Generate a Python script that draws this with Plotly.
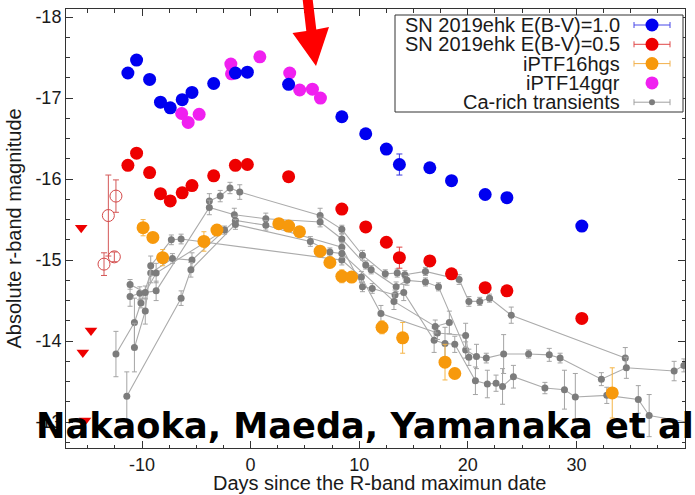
import plotly.graph_objects as go

# ---------------- data ----------------
# SN 2019ehk, E(B-V)=1.0 (blue) and 0.5 (red)
ehk_days = [-11.3, -10.5, -9.3, -8.3, -7.4, -6.3, -5.4, -3.4, -1.4, -0.3, 3.5, 8.4,
            10.6, 12.5, 13.7, 16.5, 18.5, 21.6, 23.6, 30.5]
ehk10_mag = [-17.31, -17.47, -17.23, -16.95, -16.88, -16.98, -17.07, -17.18, -17.31, -17.32,
             -17.17, -16.77, -16.56, -16.37, -16.18, -16.14, -15.98, -15.81, -15.77, -15.42]
ehk05_mag = [-16.17, -16.32, -16.08, -15.82, -15.73, -15.83, -15.92, -16.04, -16.17, -16.18,
             -16.03, -15.63, -15.41, -15.22, -15.03, -14.99, -14.83, -14.66, -14.62, -14.28]
ehk_err = [0.03, 0.03, 0.03, 0.03, 0.03, 0.03, 0.03, 0.03, 0.03, 0.03,
           0.03, 0.03, 0.03, 0.03, 0.13, 0.03, 0.03, 0.03, 0.03, 0.03]

# early SN 2019ehk (open circles) and upper limits (triangles)
early_days = [-13.1, -12.4, -13.5, -12.55]
early_mag = [-15.55, -15.79, -14.95, -15.04]
early_err = [0.5, 0.2, 0.14, 0.06]
lim_days = [-15.6, -14.7, -15.45, -15.25]
lim_mag = [-15.40, -14.13, -13.86, -13.02]

# iPTF16hgs
hgs_days = [-9.9, -9.0, -8.1, -4.3, -3.1, 2.6, 3.5, 4.5, 6.4, 7.3, 8.4, 9.3, 12.1, 14.0, 17.9, 18.8, 33.3]
hgs_mag = [-15.40, -15.28, -15.03, -15.23, -15.37, -15.45, -15.42, -15.35, -15.11, -14.97,
           -14.80, -14.79, -14.17, -14.04, -13.74, -13.60, -13.36]
hgs_err = [0.10, 0.06, 0.10, 0.12, 0.06, 0.05, 0.05, 0.05, 0.05, 0.05,
           0.08, 0.05, 0.08, 0.19, 0.22, 0.06, 0.31]

# iPTF14gqr
gqr_days = [-6.35, -5.75, -4.74, -1.82, -1.76, 0.85, 3.6, 4.52, 5.69, 6.43]
gqr_mag = [-16.81, -16.70, -16.80, -17.42, -17.30, -17.51, -17.31, -17.10, -17.11, -17.00]

# Ca-rich transients (several light curves)
ca1_days = [-3.8, -2.8, -1.9, -1.0, 6.4, 8.4, 10.3, 12.4, 13.5, 14.2, 16.1, 19.2, 20.1, 21.1, 22.0, 24.0, 34.5]
ca1_mag = [-15.73, -15.79, -15.89, -15.84, -15.55, -15.38, -15.06, -14.83, -14.84, -14.82,
           -14.86, -14.76, -14.49, -14.49, -14.53, -14.32, -13.79]
ca1_err = [0.09, 0.07, 0.07, 0.09, 0.09, 0.05, 0.06, 0.05, 0.05, 0.05,
           0.05, 0.06, 0.06, 0.05, 0.05, 0.10, 0.13]

ca2_days = [-11.1, -10.2, -8.7, -3.8, -1.5, 1.4, 6.4, 8.4, 10.6, 11.1, 13.4, 14.4, 16.1, 17.3,
            19.8, 20.8, 21.7, 23.3, 25.6, 27.5, 28.5, 32.3, 34.6, 39.0, 39.9, 40.6]
ca2_mag = [-14.55, -14.59, -14.62, -15.65, -15.56, -15.51, -15.47, -15.26, -14.94, -14.88,
           -14.67, -14.75, -14.73, -14.67, -13.89, -13.81, -13.79, -13.84, -13.84, -13.83,
           -13.79, -13.53, -13.67, -13.63, -13.70, -13.57]
ca2_err = [0.12, 0.08, 0.12, 0.09, 0.08, 0.07, 0.06, 0.06, 0.05, 0.05,
           0.06, 0.06, 0.05, 0.05, 0.10, 0.15, 0.06, 0.24, 0.05, 0.08,
           0.06, 0.08, 0.13, 0.12, 0.08, 0.10]

ca3_days = [-12.4, -10.7, -10.1, -9.2, -7.2, -5.4, -1.4, 1.4, 8.4, 10.3, 11.2, 13.3, 14.1, 16.9,
            17.9, 18.8, 20.7, 21.8, 22.6, 23.2, 24.2, 27.1, 28.9, 29.9, 32.8, 35.7, 36.7, 41.0]
ca3_mag = [-13.84, -14.23, -14.47, -14.84, -15.02, -15.00, -15.49, -15.43, -15.16, -14.67,
           -14.65, -14.57, -14.60, -14.01, -13.97, -13.96, -13.51, -13.47, -13.48, -13.44,
           -13.56, -13.42, -13.40, -13.31, -13.33, -13.28, -13.08, -12.98]
ca3_err = [0.28, 0.30, 0.06, 0.12, 0.06, 0.09, 0.05, 0.06, 0.06, 0.06,
           0.06, 0.06, 0.10, 0.15, 0.20, 0.10, 0.17, 0.17, 0.10, 0.22,
           0.14, 0.07, 0.24, 0.29, 0.10, 0.17, 0.26, 0.20]

ca4_days = [-10.7, -9.7, -9.2, -7.3, -6.4, 8.4, 10.2, 12.0, 17.2, 19.8, 20.1]
ca4_mag = [-13.92, -14.37, -14.93, -15.25, -15.26, -15.00, -14.79, -14.34, -14.10, -14.07, -13.80]
ca4_err = [0.30, 0.16, 0.12, 0.06, 0.06, 0.06, 0.07, 0.10, 0.08, 0.15, 0.10]

ca5_days = [-11.4, -6.4, -5.5, -1.4, 5.5, 7.3, 8.4, 13.2, 17.0, 18.3]
ca5_mag = [-13.32, -14.53, -14.88, -15.44, -15.23, -15.10, -15.08, -14.49, -14.18, -14.23]
ca5_err = [0.30, 0.09, 0.09, 0.06, 0.06, 0.05, 0.05, 0.10, 0.08, 0.14]

ca6_days = [-11.1, -9.7, -8.7, -2.4]
ca6_mag = [-14.70, -14.60, -14.84, -15.37]
ca6_err = [0.06, 0.08, 0.12, 0.05]

x_ticks = [-10, 0, 10, 20, 30, 40]
x_tick_text = ["-10", "0", "10", "20", "30", "40"]
y_ticks = [-18, -17, -16, -15, -14, -13]
y_tick_text = ["-18", "-17", "-16", "-15", "-14", "-13"]

legend_labels = ["SN 2019ehk E(B-V)=1.0", "SN 2019ehk E(B-V)=0.5", "iPTF16hgs",
                 "iPTF14gqr", "Ca-rich transients"]

# ---------------- styles ----------------
BLUE = "#0000f0"
RED = "#ee0000"
ORANGE = "#f7990c"
MAGENTA = "#f020f0"
GRAY = "#7c7c7c"
FONT = "Liberation Sans"
TXT = "#1a1a1a"

W, H = 695, 495
L, R, T, B = 66, 10, 9, 47
PW, PH = W - L - R, H - T - B


def px(xp, yp):
    return (xp - L) / PW, (H - B - yp) / PH


fig = go.Figure()

ca_sets = [(ca1_days, ca1_mag, ca1_err), (ca2_days, ca2_mag, ca2_err),
           (ca3_days, ca3_mag, ca3_err), (ca4_days, ca4_mag, ca4_err),
           (ca5_days, ca5_mag, ca5_err), (ca6_days, ca6_mag, ca6_err)]
for d, m, e in ca_sets:
    fig.add_trace(go.Scatter(
        x=d, y=m, mode="lines+markers",
        line=dict(color="#ababab", width=1.1),
        marker=dict(color=GRAY, size=7),
        error_y=dict(type="data", array=e, color="#a4a4a4", thickness=1, width=2.5),
        showlegend=False))

fig.add_trace(go.Scatter(
    x=hgs_days, y=hgs_mag, mode="markers",
    marker=dict(color=ORANGE, size=13),
    error_y=dict(type="data", array=hgs_err, color="#f5b547", thickness=1, width=2.5),
    showlegend=False))

fig.add_trace(go.Scatter(
    x=early_days, y=early_mag, mode="markers",
    marker=dict(symbol="circle-open", color="#d44848", size=12, line=dict(width=1)),
    error_y=dict(type="data", array=early_err, color="#d45858", thickness=1, width=3),
    showlegend=False))

fig.add_trace(go.Scatter(
    x=lim_days, y=lim_mag, mode="markers",
    marker=dict(symbol="triangle-down", color=RED, size=11),
    showlegend=False))

fig.add_trace(go.Scatter(
    x=ehk_days, y=ehk05_mag, mode="markers",
    marker=dict(color=RED, size=13),
    error_y=dict(type="data", array=ehk_err, color="#e04040", thickness=1, width=3),
    showlegend=False))

fig.add_trace(go.Scatter(
    x=gqr_days, y=gqr_mag, mode="markers",
    marker=dict(color=MAGENTA, size=13),
    showlegend=False))

fig.add_trace(go.Scatter(
    x=ehk_days, y=ehk10_mag, mode="markers",
    marker=dict(color=BLUE, size=13),
    error_y=dict(type="data", array=ehk_err, color="#3a3ae0", thickness=1, width=3),
    showlegend=False))

# ---------------- manual legend (symbols on the right, like the original) ----------------
shapes = []
annotations = []
x0, y0 = px(395, 15)
x1, y1 = px(683, 112)
shapes.append(dict(type="rect", xref="paper", yref="paper", x0=x0, y0=y1, x1=x1, y1=y0,
                   line=dict(color="#333", width=1), fillcolor="white", layer="above"))
row_y = [25, 44.3, 63.6, 82.9, 102.2]
leg_colors = [BLUE, RED, ORANGE, MAGENTA, GRAY]
line_cols = ["#4848e8", "#e04848", "#f2b04a", None, "#a0a0a0"]
sizes = [13, 13, 13, 13, 6]
for lab, ry, col, lc, sz in zip(legend_labels, row_y, leg_colors, line_cols, sizes):
    tx, ty = px(621, ry)
    annotations.append(dict(xref="paper", yref="paper", x=tx, y=ty, xanchor="right",
                            yanchor="middle", text=lab, showarrow=False, borderpad=0,
                            font=dict(family=FONT, size=20, color=TXT)))
    cx, cy = px(652, ry)
    if lc:
        a, _ = px(634, ry)
        b, _ = px(670, ry)
        _, cu = px(0, ry - 3)
        _, cd = px(0, ry + 3)
        shapes.append(dict(type="line", xref="paper", yref="paper", x0=a, x1=b, y0=cy, y1=cy,
                           line=dict(color=lc, width=1), layer="above"))
        for e in (a, b):
            shapes.append(dict(type="line", xref="paper", yref="paper", x0=e, x1=e, y0=cd, y1=cu,
                               line=dict(color=lc, width=1), layer="above"))
    r = sz / 2
    shapes.append(dict(type="circle", xref="paper", yref="paper", xsizemode="pixel",
                       ysizemode="pixel", xanchor=cx, yanchor=cy, x0=-r, x1=r, y0=-r, y1=r,
                       fillcolor=col, line=dict(width=0), layer="above"))

# ---------------- red arrow ----------------
arrow_px = [(302, -6), (306.3, 31), (292.5, 33), (316, 66), (329, 27), (316.3, 29.5), (312, -6)]
pts = [px(a, b) for a, b in arrow_px]
path = "M " + " L ".join(f"{a:.5f},{b:.5f}" for a, b in pts) + " Z"
shapes.append(dict(type="path", xref="paper", yref="paper", path=path,
                   fillcolor="#ff0000", line=dict(width=0), layer="above"))

# ---------------- axis titles ----------------
ax_, ay_ = px(380, 483)
annotations.append(dict(xref="paper", yref="paper", x=ax_, y=ay_, xanchor="center",
                        yanchor="middle", text="Days since the R-band maximun date",
                        showarrow=False, borderpad=0, font=dict(family=FONT, size=20, color=TXT)))
bx_, by_ = px(13, 228.5)
annotations.append(dict(xref="paper", yref="paper", x=bx_, y=by_, xanchor="center",
                        yanchor="middle", text="Absolute r-band magnitude", textangle=-90,
                        showarrow=False, borderpad=0, font=dict(family=FONT, size=20, color=TXT)))

# ---------------- overlay text ----------------
nx, ny = px(35, 425)
annotations.append(dict(xref="paper", yref="paper", x=nx, y=ny, xanchor="left", yanchor="middle",
                        text="<b>Nakaoka, Maeda, Yamanaka et al.</b>", showarrow=False,
                        borderpad=0, font=dict(family="DejaVu Sans", size=35.2, color="black")))

axis_common = dict(showgrid=False, zeroline=False, showline=True, linecolor="#333", linewidth=1,
                   mirror="ticks", ticks="inside", ticklen=7, tickcolor="#333", automargin=False,
                   tickfont=dict(family=FONT, size=18, color=TXT))

fig.update_layout(
    width=W, height=H,
    margin=dict(l=L, r=R, t=T, b=B),
    paper_bgcolor="white", plot_bgcolor="white",
    shapes=shapes, annotations=annotations,
    showlegend=False, hovermode=False,
    xaxis=dict(range=[-17.0, 40], tickvals=x_ticks, ticktext=x_tick_text, **axis_common,
               minor=dict(dtick=2.5, ticklen=3.5, ticks="inside", tickcolor="#333")),
    yaxis=dict(range=[-12.68, -18.1], tickvals=y_ticks, ticktext=y_tick_text, **axis_common,
               minor=dict(dtick=0.25, ticklen=3.5, ticks="inside", tickcolor="#333")),
)

fig.write_html("out.html", config={"displayModeBar": False},
               post_script="document.body.style.margin='0px';document.body.style.overflow='hidden';")
